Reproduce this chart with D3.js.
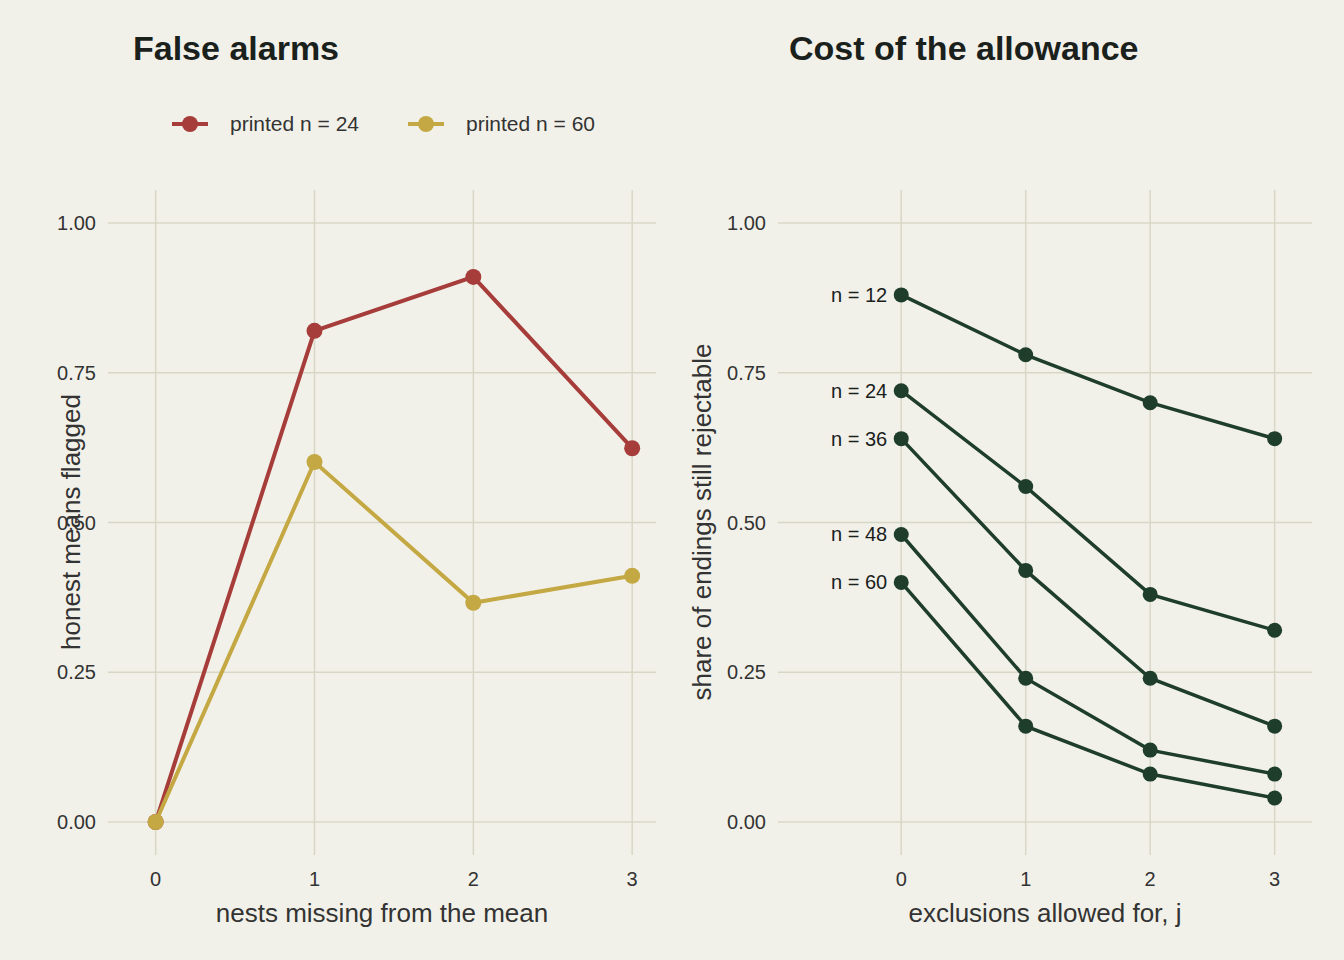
<!DOCTYPE html><html><head><meta charset="utf-8">
<script src="https://cdn.jsdelivr.net/npm/d3@7"></script>
<style>body{margin:0;background:#f2f1e9}text{font-family:"Liberation Sans",Arial,sans-serif}</style></head><body>
<svg id="c" width="1344" height="960"></svg>
<script>
const xVals=[0,1,2,3];
const seriesLeft=[{name:"printed n = 24",color:"#a63d3b",values:[0,0.82,0.91,0.624]},
{name:"printed n = 60",color:"#c4a843",values:[0,0.601,0.366,0.411]}];
const nLabels=["n = 12","n = 24","n = 36","n = 48","n = 60"];
const seriesRight=[[0.88,0.78,0.70,0.64],[0.72,0.56,0.38,0.32],[0.64,0.42,0.24,0.16],[0.48,0.24,0.12,0.08],[0.40,0.16,0.08,0.04]];
const yTicks=[0,0.25,0.5,0.75,1];
const green="#1e3d2b",grid="#d8d7c6";
const svg=d3.select("#c");
svg.append("rect").attr("width",1344).attr("height",960).attr("fill","#f2f1e9");
const y=d3.scaleLinear().domain([0,1]).range([822,223]);
function panel(x0,x1,dom,title,xlab,ylab,ylx){
 const x=d3.scaleLinear().domain(dom).range([x0,x1]);
 const g=svg.append("g");
 yTicks.forEach(t=>{g.append("line").attr("x1",x0).attr("x2",x1).attr("y1",y(t)).attr("y2",y(t)).attr("stroke",grid).attr("stroke-width",1.5);
  g.append("text").attr("x",x0-12).attr("y",y(t)+7).attr("text-anchor","end").attr("font-size",20).attr("fill","#333").text(t.toFixed(2));});
 xVals.forEach(t=>{g.append("line").attr("x1",x(t)).attr("x2",x(t)).attr("y1",190).attr("y2",855).attr("stroke",grid).attr("stroke-width",1.5);
  g.append("text").attr("x",x(t)).attr("y",886).attr("text-anchor","middle").attr("font-size",20).attr("fill","#333").text(t);});
 g.append("text").attr("x",(x0+x1)/2).attr("y",922).attr("text-anchor","middle").attr("font-size",26).attr("fill","#333").text(xlab);
 g.append("text").attr("transform",`translate(${ylx},522) rotate(-90)`).attr("text-anchor","middle").attr("font-size",26).attr("fill","#333").text(ylab);
 return x;}
const xl=panel(108,656,[-0.3,3.15],"","nests missing from the mean","honest means flagged",80);
const xr=panel(778,1312,[-0.99,3.3],"","exclusions allowed for, j","share of endings still rejectable",711);
svg.append("text").attr("x",133).attr("y",60).attr("font-size",34).attr("font-weight","bold").attr("fill","#1a211c").text("False alarms");
svg.append("text").attr("x",789).attr("y",60).attr("font-size",34).attr("font-weight","bold").attr("fill","#1a211c").text("Cost of the allowance");
const line=(x)=>d3.line().x((d,i)=>x(xVals[i])).y(d=>y(d));
seriesLeft.forEach((s,k)=>{
 svg.append("path").attr("d",line(xl)(s.values)).attr("fill","none").attr("stroke",s.color).attr("stroke-width",4);
 s.values.forEach((v,i)=>svg.append("circle").attr("cx",xl(xVals[i])).attr("cy",y(v)).attr("r",8).attr("fill",s.color));
 const lx=[190,426][k];
 svg.append("line").attr("x1",lx-18).attr("x2",lx+18).attr("y1",124).attr("y2",124).attr("stroke",s.color).attr("stroke-width",4);
 svg.append("circle").attr("cx",lx).attr("cy",124).attr("r",8).attr("fill",s.color);
 svg.append("text").attr("x",lx+40).attr("y",131).attr("font-size",21).attr("fill","#333").text(s.name);
});
seriesRight.forEach((s,k)=>{
 svg.append("path").attr("d",line(xr)(s)).attr("fill","none").attr("stroke",green).attr("stroke-width",3.5);
 s.forEach((v,i)=>svg.append("circle").attr("cx",xr(xVals[i])).attr("cy",y(v)).attr("r",7.5).attr("fill",green));
 svg.append("text").attr("x",xr(0)-14).attr("y",y(s[0])+7).attr("text-anchor","end").attr("font-size",20).attr("fill","#1a211c").text(nLabels[k]);
});
</script></body></html>
